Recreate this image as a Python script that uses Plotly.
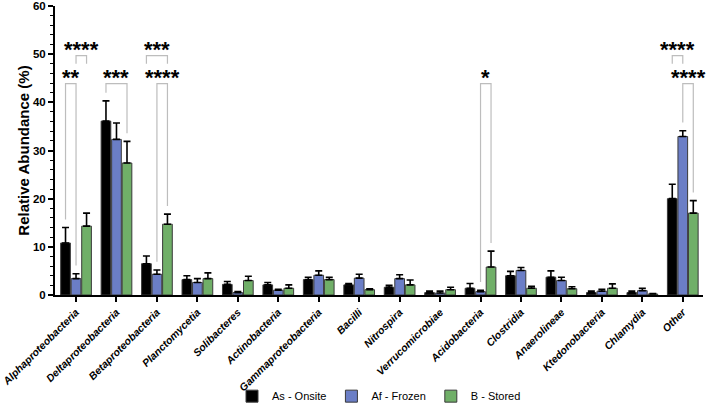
import plotly.graph_objects as go

categories = ["Alphaproteobacteria", "Deltaproteobacteria", "Betaproteobacteria", "Planctomycetia",
              "Solibacteres", "Actinobacteria", "Gammaproteobacteria", "Bacilli", "Nitrospira",
              "Verrucomicrobiae", "Acidobacteria", "Clostridia", "Anaerolineae", "Ktedonobacteria",
              "Chlamydia", "Other"]

onsite = [10.8, 36.1, 6.5, 3.2, 2.2, 2.1, 3.2, 2.1, 1.6, 0.5, 1.4, 4.0, 3.7, 0.5, 0.5, 20.0]
onsite_err = [3.2, 4.2, 1.6, 0.8, 0.6, 0.5, 0.5, 0.3, 0.4, 0.3, 1.0, 0.9, 1.3, 0.3, 0.3, 3.0]
frozen = [3.4, 32.3, 4.3, 2.6, 0.5, 1.0, 4.1, 3.5, 3.4, 0.4, 0.7, 5.1, 3.0, 0.8, 0.9, 32.9]
frozen_err = [1.0, 3.4, 0.9, 0.8, 0.2, 0.2, 0.9, 0.8, 0.8, 0.4, 0.3, 0.6, 0.7, 0.4, 0.5, 1.2]
stored = [14.3, 27.4, 14.7, 3.4, 3.0, 1.4, 3.2, 1.1, 2.1, 1.1, 5.8, 1.4, 1.3, 1.4, 0.2, 17.0]
stored_err = [2.7, 4.5, 2.1, 1.2, 0.9, 0.7, 0.5, 0.2, 1.0, 0.5, 3.3, 0.4, 0.4, 0.9, 0.1, 2.6]

series_names = ["As - Onsite", "Af - Frozen", "B - Stored"]
series_colors = ["#000000", "#6B7EC6", "#70AF68"]

# significance comparisons: category index, first series, second series, bracket tier, label
sig_cat = [0, 0, 1, 2, 2, 10, 15, 15]
sig_a = [0, 1, 0, 0, 1, 1, 0, 1]
sig_b = [1, 2, 2, 2, 2, 2, 1, 2]
sig_tier = [0, 1, 0, 1, 0, 0, 1, 0]
sig_label = ["**", "****", "***", "***", "****", "*", "****", "****"]

values = [onsite, frozen, stored]
errors = [onsite_err, frozen_err, stored_err]

fig = go.Figure()
for name, col, v, e in zip(series_names, series_colors, values, errors):
    fig.add_trace(go.Bar(
        x=categories, y=v, name=name,
        marker=dict(color=col, line=dict(color="#3a3a3a", width=1)),
        error_y=dict(type="data", array=e, arrayminus=[0] * len(e), symmetric=False,
                     color="#000000", thickness=1.6, width=3.5),
    ))

BARGAP = 0.22
offset = (1 - BARGAP) / 3
tier_y = [43.9, 49.7]

for c, a, b, t, lab in zip(sig_cat, sig_a, sig_b, sig_tier, sig_label):
    xa = c + (a - 1) * offset
    xb = c + (b - 1) * offset
    ytop = tier_y[t]
    if t == 0:
        ya = values[a][c] + errors[a][c] + 1.7
        yb = values[b][c] + errors[b][c] + 1.7
    else:
        ya = yb = ytop - 1.7
    fig.add_shape(type="path", xref="x", yref="y",
                  path=f"M {xa},{ya} L {xa},{ytop} L {xb},{ytop} L {xb},{yb}",
                  line=dict(color="#BDBDBD", width=1.2))
    fig.add_annotation(x=(xa + xb) / 2, y=ytop, xref="x", yref="y", text=lab,
                       showarrow=False, yanchor="bottom", yshift=-7, borderpad=0,
                       font=dict(family="Liberation Sans", size=22, weight="bold", color="#000000"))

fig.update_layout(
    width=706, height=411,
    margin=dict(l=55, r=3, t=6, b=116, autoexpand=False),
    barmode="group", bargap=BARGAP, bargroupgap=0.08,
    plot_bgcolor="white", paper_bgcolor="white",
    font=dict(family="Liberation Sans", color="#000000"),
    showlegend=True,
    legend=dict(orientation="h", x=0.5, xanchor="center", y=-0.35, yanchor="middle",
                bgcolor="rgba(0,0,0,0)",
                font=dict(size=11, family="Liberation Sans"), itemwidth=30),
)
fig.update_xaxes(
    range=[-0.52, 15.5], showline=True, linecolor="#000000", linewidth=2,
    ticks="outside", ticklen=5, tickwidth=1.5, tickcolor="#000000", automargin=False,
    ticklabeloverflow="allow",
    tickangle=-45, tickfont=dict(size=10.5, family="Liberation Sans", weight="bold", style="italic"),
    showgrid=False, zeroline=False,
)
fig.update_yaxes(
    range=[0, 60], dtick=10, showline=True, linecolor="#000000", linewidth=2,
    ticks="outside", ticklen=5, tickwidth=1.5, tickcolor="#000000", automargin=False,
    ticklabeloverflow="allow",
    tickfont=dict(size=11.5, family="Liberation Sans", weight="bold"),
    minor=dict(dtick=2, ticks="outside", ticklen=3, tickwidth=1, tickcolor="#000000"),
    title=dict(text="Relative Abundance (%)", font=dict(size=15, family="Liberation Sans", weight="bold"), standoff=0),
    showgrid=False, zeroline=False,
)

fig.write_html("out.html", config={"displayModeBar": False},
               post_script="document.body.style.margin='0';document.body.style.overflow='hidden';")
